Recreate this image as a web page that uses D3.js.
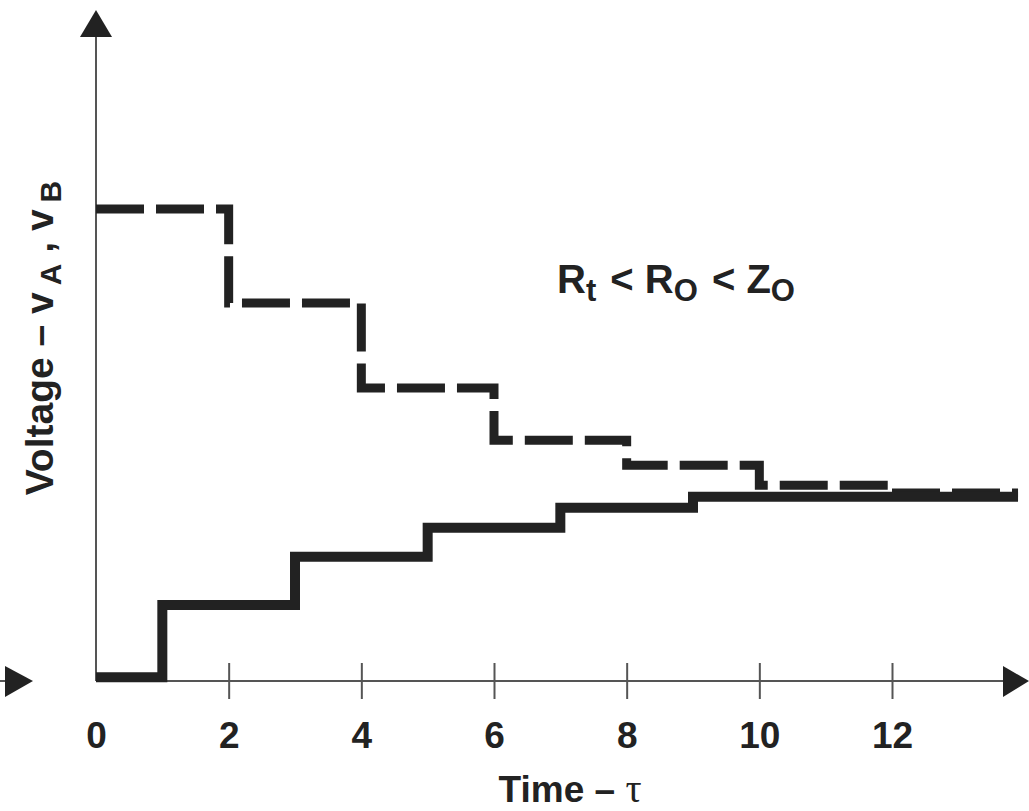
<!DOCTYPE html>
<html>
<head>
<meta charset="utf-8">
<script src="https://cdn.jsdelivr.net/npm/d3@7"></script>
<style>
    body { margin: 0; background: #fff; }
    svg { display: block; }
    text { font-family: "Liberation Sans", Arial, sans-serif; font-weight: bold; fill: #222; }
</style>
</head>
<body>
<div id="chart"></div>
<script>
// step data (time in tau, voltage in arbitrary units)
const timesA = [0, 1, 3, 5, 7, 9, 13.9];
const voltA = [0.06, 1.18, 1.93, 2.38, 2.69, 2.86, 2.86]; // solid
const timesB = [0, 2, 4, 6, 8, 10, 12, 13.9];
const voltB = [7.33, 5.87, 4.55, 3.74, 3.35, 3.04, 2.92, 2.92]; // dashed
const tickValues = [0, 2, 4, 6, 8, 10, 12];

const width = 1029, height = 811;

const svg = d3.select('#chart').append('svg')
    .attr('width', width)
    .attr('height', height);

const x = d3.scaleLinear().domain([0, 12]).range([96, 892]);
const y = d3.scaleLinear().domain([0, 10]).range([681, 37]);

const ink = '#222';
const axisColor = '#555';

// x axis line + arrow
svg.append('line')
    .attr('x1', x(0)).attr('x2', 1008)
    .attr('y1', y(0)).attr('y2', y(0))
    .attr('stroke', axisColor).attr('stroke-width', 2);
svg.append('path')
    .attr('d', `M1003,${y(0) - 15} L1029,${y(0)} L1003,${y(0) + 16} Z`)
    .attr('fill', ink);

// input marker arrow on the left
svg.append('line')
    .attr('x1', 0).attr('x2', 10)
    .attr('y1', y(0)).attr('y2', y(0))
    .attr('stroke', axisColor).attr('stroke-width', 2);
svg.append('path')
    .attr('d', `M5,${y(0) - 15} L33,${y(0)} L5,${y(0) + 16} Z`)
    .attr('fill', ink);

// y axis line + arrow
svg.append('line')
    .attr('x1', x(0)).attr('x2', x(0))
    .attr('y1', y(0)).attr('y2', y(10))
    .attr('stroke', axisColor).attr('stroke-width', 2);
svg.append('path')
    .attr('d', `M${x(0) - 16},${y(10)} L${x(0)},10 L${x(0) + 16},${y(10)} Z`)
    .attr('fill', ink);

// ticks and labels through d3 axis
const xAxis = svg.append('g')
    .attr('transform', `translate(0,${y(0)})`)
    .call(d3.axisBottom(x).tickValues(tickValues).tickSize(18).tickPadding(23));
xAxis.select('.domain').remove();
xAxis.selectAll('.tick line')
    .attr('y1', -18).attr('y2', 18)
    .attr('stroke', axisColor).attr('stroke-width', 2)
    .filter(d => d === 0).remove();
xAxis.selectAll('.tick text')
    .attr('font-size', 37)
    .attr('font-family', '"Liberation Sans", Arial, sans-serif')
    .attr('font-weight', 'bold')
    .attr('fill', ink);

// step lines
const line = d3.line()
    .x(d => x(d[0]))
    .y(d => y(d[1]))
    .curve(d3.curveStepAfter);

svg.append('path')
    .datum(d3.zip(timesB, voltB))
    .attr('d', line)
    .attr('fill', 'none')
    .attr('stroke', ink)
    .attr('stroke-width', 9)
    .attr('stroke-dasharray', '48 12');

svg.append('path')
    .datum(d3.zip(timesA, voltA))
    .attr('d', line)
    .attr('fill', 'none')
    .attr('stroke', ink)
    .attr('stroke-width', 10);

// axis titles
const xTitle = svg.append('text')
    .attr('x', 570).attr('y', 802)
    .attr('text-anchor', 'middle')
    .attr('font-size', 37);
xTitle.append('tspan').text('Time \u2013 ');
xTitle.append('tspan')
    .attr('font-family', '"Liberation Serif", "Times New Roman", serif')
    .attr('font-weight', 'normal')
    .attr('font-size', 40)
    .text('\u03c4');

const yTitle = svg.append('text')
    .attr('transform', 'translate(53,338) rotate(-90)')
    .attr('text-anchor', 'middle')
    .attr('font-size', 39);
yTitle.append('tspan').text('Voltage \u2013 v');
yTitle.append('tspan').attr('font-size', 30).attr('dx', 7).attr('dy', 8).text('A');
yTitle.append('tspan').attr('dy', -8).text(' , v');
yTitle.append('tspan').attr('font-size', 30).attr('dx', 7).attr('dy', 8).text('B');

// annotation
const note = svg.append('text')
    .attr('x', 557).attr('y', 293)
    .attr('font-size', 40);
note.append('tspan').text('R');
note.append('tspan').attr('font-size', 31).attr('dy', 8).text('t');
note.append('tspan').attr('dx', 3).attr('dy', -8).text(' < R');
note.append('tspan').attr('font-size', 31).attr('dy', 8).text('O');
note.append('tspan').attr('dx', 3).attr('dy', -8).text(' < Z');
note.append('tspan').attr('font-size', 31).attr('dy', 8).text('O');
</script>
</body>
</html>
